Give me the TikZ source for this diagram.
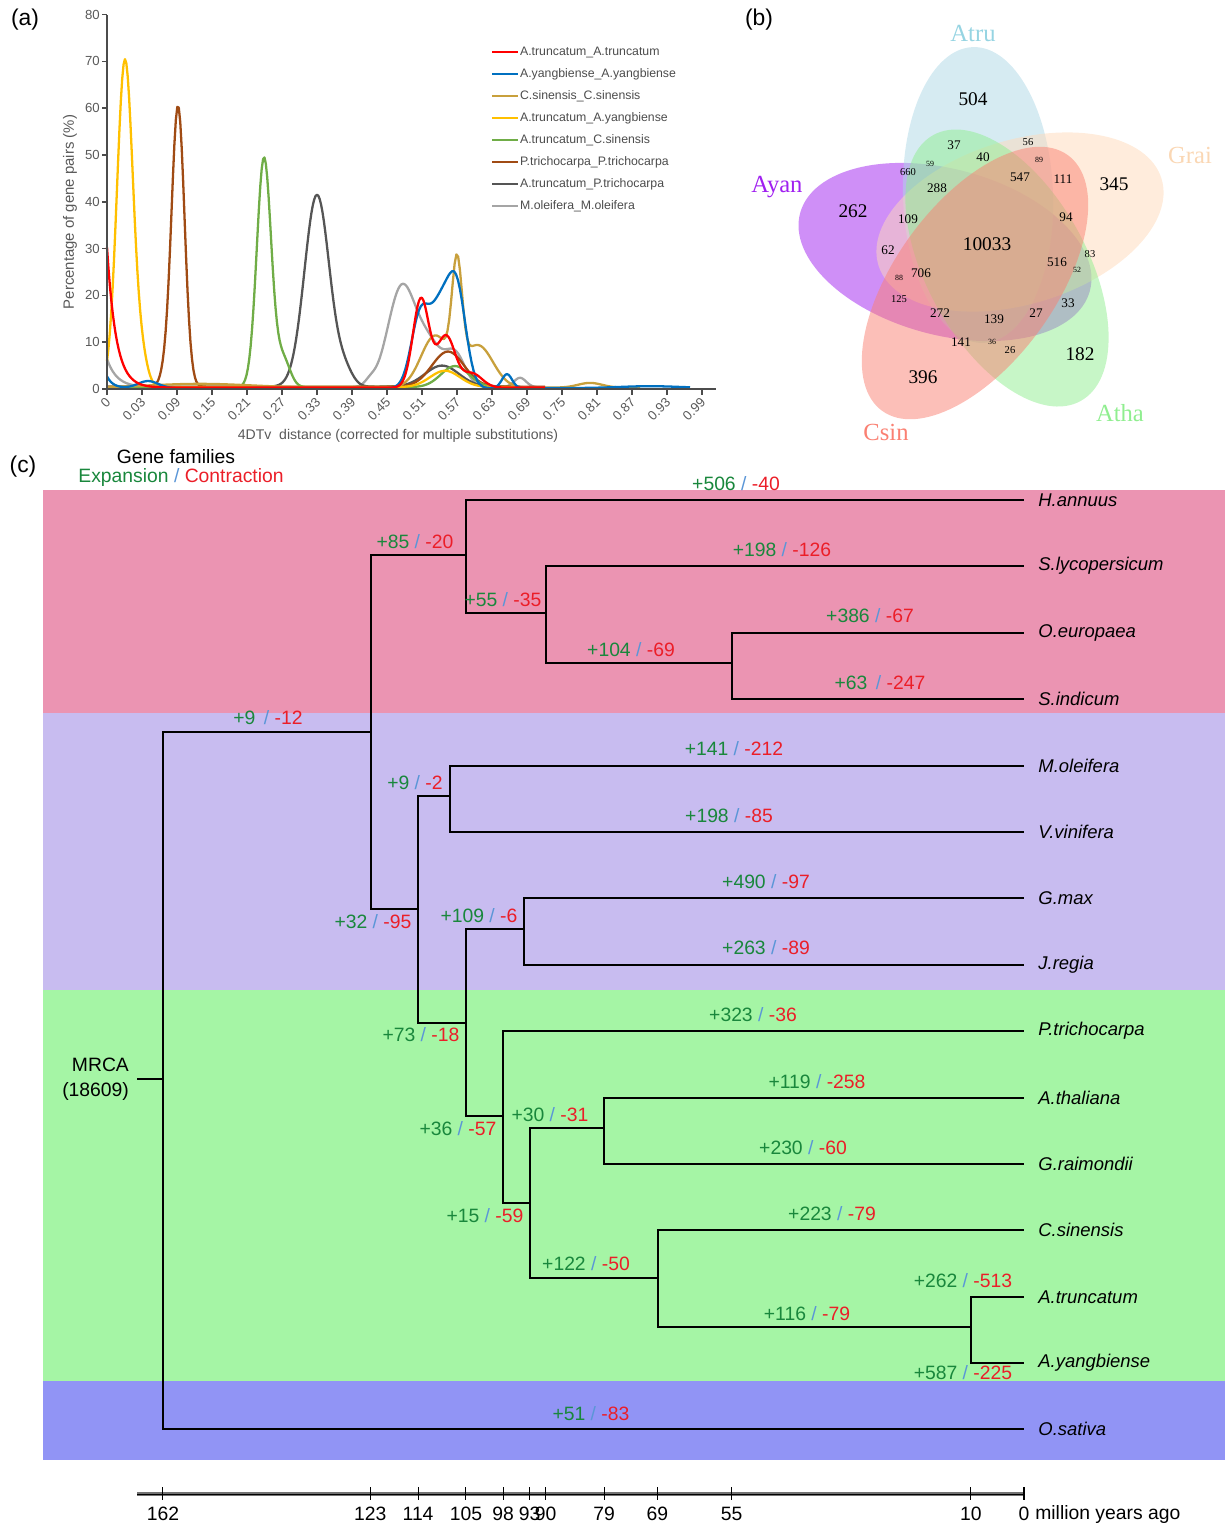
\documentclass[tikz,border=0pt]{standalone}
\usepackage{fontspec}
\setmainfont{Liberation Sans}
\newfontfamily\vennfont{Liberation Serif}
\usetikzlibrary{positioning,calc}
\definecolor{gaingreen}{RGB}{25,135,60}
\definecolor{lossred}{RGB}{235,30,40}
\definecolor{slashblue}{RGB}{90,150,215}
\definecolor{bandpink}{RGB}{235,148,178}
\definecolor{bandlilac}{RGB}{200,188,240}
\definecolor{bandgreen}{RGB}{165,245,165}
\definecolor{bandblue}{RGB}{145,148,245}
\definecolor{cRed}{RGB}{255,0,0}
\definecolor{cBlue}{RGB}{0,112,192}
\definecolor{cTan}{RGB}{200,160,60}
\definecolor{cYellow}{RGB}{255,192,0}
\definecolor{cGreen}{RGB}{112,173,71}
\definecolor{cBrown}{RGB}{160,75,20}
\definecolor{cDark}{RGB}{85,85,85}
\definecolor{cLight}{RGB}{165,165,165}
\definecolor{vAtru}{RGB}{173,216,230}
\definecolor{vAyan}{RGB}{160,32,240}
\definecolor{vGrai}{RGB}{255,218,185}
\definecolor{vAtha}{RGB}{144,238,144}
\definecolor{vCsin}{RGB}{250,128,114}
\definecolor{tAtru}{RGB}{150,212,226}
\definecolor{tGrai}{RGB}{250,215,180}
\newcommand{\gl}[2]{\textcolor{gaingreen}{#1} \textcolor{slashblue}{/} \textcolor{lossred}{#2}}

\begin{document}
\begin{tikzpicture}[x=0.02cm, y=-0.02cm, >=latex,
   declare function={gs(\xx,\mm,\ww)=exp(-min(0.5*((\xx-\mm)/\ww)^2,40)); dec(\xx,\ww)=exp(-min((\xx-107)/\ww,40));},
   curve/.style={line width=1.3pt, line join=round},
   axisline/.style={draw=black!70, line width=0.9pt},
   ticklab/.style={font=\fontsize{7.5}{8}\selectfont, text=black!65, inner sep=0.5pt},
   legtxt/.style={font=\fontsize{7}{8}\selectfont, text=black!70, anchor=west, inner sep=1pt},
   panel/.style={font=\fontsize{13}{14}\selectfont},
   venn/.style={fill opacity=0.5},
   vbig/.style={font=\vennfont\fontsize{11}{12}\selectfont, inner sep=0pt},
   vmid/.style={font=\vennfont\fontsize{7.5}{8}\selectfont, inner sep=0pt},
   vsml/.style={font=\vennfont\fontsize{6}{7}\selectfont, inner sep=0pt},
   vtin/.style={font=\vennfont\fontsize{4.5}{5}\selectfont, inner sep=0pt},
   vname/.style={font=\vennfont\fontsize{14}{15}\selectfont},
   branch/.style={draw=black, line width=0.7pt},
   gl/.style={font=\fontsize{11}{12}\selectfont, inner sep=1pt},
   sp/.style={anchor=west, inner xsep=8pt, font=\itshape\fontsize{10.5}{12}\selectfont}]

   \useasboundingbox (0,0) rectangle (1227,1526);

   % (a) 4DTv distribution
   \node[panel] (pa) at (25,20) {(a)};
   \foreach \v [count=\i from 0] in {0,10,...,80} {
     \draw[axisline] (102,389-46.8*\i) -- (107,389-46.8*\i);
     \node[ticklab, anchor=east] (yt\i) at (101,389-46.8*\i) {\v};
   }
   \foreach \lab [count=\i from 0] in {0,0.03,0.09,0.15,0.21,0.27,0.33,0.39,0.45,0.51,0.57,0.63,0.69,0.75,0.81,0.87,0.93,0.99} {
     \draw[axisline] (107+35*\i,389) -- (107+35*\i,395);
     \node[ticklab, rotate=45, anchor=east] (xt\i) at (109+35*\i,399) {\lab};
   }
   \node[ticklab, rotate=90, font=\fontsize{8.5}{9}\selectfont] (ylab) at (70,212) {Percentage of gene pairs (\%)};
   \node[ticklab, font=\fontsize{8}{9}\selectfont] (xlab) at (398,436) {4DTv\ \ distance (corrected for multiple substitutions)};

   \draw[curve, cLight] plot[domain=107:545, samples=300] (\x, {389-4.68*(6*dec(\x,10)+21.5*gs(\x,402,14)+8*gs(\x,430,12)+7*gs(\x,455,10)+2*gs(\x,520,6)+1*gs(\x,370,5)+0.4)});
   \draw[curve, cDark] plot[domain=107:520, samples=300] (\x, {389-4.68*(41*gs(\x,317,12.5)+3*gs(\x,345,8)+4.5*gs(\x,442,17)+0.5)});
   \draw[curve, cBrown] plot[domain=107:545, samples=300] (\x, {389-4.68*(60*gs(\x,178,6.5)+2*gs(\x,165,5)+7.5*gs(\x,448,16)+0.5)});
   \draw[curve, cGreen] plot[domain=107:520, samples=300] (\x, {389-4.68*(49*gs(\x,264,7.2)+6*gs(\x,283,7)+4.5*gs(\x,455,14)+0.4)});
   \draw[curve, cYellow] plot[domain=107:520, samples=300] (\x, {389-4.68*(70*gs(\x,125,8)+5*gs(\x,142,6)+3.5*gs(\x,445,15)+0.4)});
   \draw[curve, cTan] plot[domain=107:640, samples=300] (\x, {389-4.68*(11*gs(\x,435,14)+22*gs(\x,457,5)+9*gs(\x,478,15)+0.8*gs(\x,200,50)+1*gs(\x,590,12)+0.3)});
   \draw[curve, cBlue] plot[domain=107:690, samples=300] (\x, {389-4.68*(2.5*dec(\x,6)+1.5*gs(\x,148,10)+15*gs(\x,420,9)+16*gs(\x,440,10)+20*gs(\x,457,9)+3*gs(\x,507,5)+0.4*gs(\x,650,30)+0.2)});
   \draw[curve, cRed] plot[domain=107:545, samples=300] (\x, {389-4.68*(30*dec(\x,9)+19*gs(\x,421,8)+11*gs(\x,446,9)+3*gs(\x,472,10)+0.3)});

   \draw[axisline] (107,15) -- (107,389) -- (716,389);

   \foreach \col/\lab [count=\i from 0] in {cRed/A.truncatum\_A.truncatum, cBlue/A.yangbiense\_A.yangbiense, cTan/C.sinensis\_C.sinensis, cYellow/A.truncatum\_A.yangbiense, cGreen/A.truncatum\_C.sinensis, cBrown/P.trichocarpa\_P.trichocarpa, cDark/A.truncatum\_P.trichocarpa, cLight/M.oleifera\_M.oleifera} {
     \draw[curve, \col] (492,52+22*\i) -- (518,52+22*\i);
     \node[legtxt] (leg\i) at (518,52+22*\i) {\lab};
   }

   % (b) Venn diagram
   \node[panel] (pb) at (759,20) {(b)};
   \fill[venn, vAyan, rotate around={-15:(945,252)}] (945,252) ellipse [x radius=150, y radius=83];
   \fill[venn, vAtru, rotate around={92:(978,195)}] (978,195) ellipse [x radius=148, y radius=75];
   \fill[venn, vGrai, rotate around={17:(1020,222)}] (1020,222) ellipse [x radius=148, y radius=82];
   \fill[venn, vAtha, rotate around={-61:(1007,268)}] (1007,268) ellipse [x radius=152, y radius=80];
   \fill[venn, vCsin, rotate around={54:(975,283)}] (975,283) ellipse [x radius=158, y radius=80];

   \node[vname, text=tAtru] (nAtru) at (973,33) {Atru};
   \node[vname, text=tGrai] (nGrai) at (1190,155) {Grai};
   \node[vname, text=vAyan] (nAyan) at (777,187) {Ayan};
   \node[vname, text=vAtha] (nAtha) at (1120,413) {Atha};
   \node[vname, text=vCsin] (nCsin) at (886,432) {Csin};

   \foreach \v/\px/\py/\sz in {504/973/99/vbig, 262/853/211/vbig, 345/1114/184/vbig, 182/1080/354/vbig, 396/923/377/vbig, 10033/987/244/vbig,
       37/954/145/vmid, 40/983/157/vmid, 288/937/188/vmid, 547/1020/177/vmid, 111/1063/179/vmid, 94/1066/217/vmid, 109/908/219/vmid,
       62/888/250/vmid, 516/1057/262/vmid, 706/921/273/vmid, 272/940/313/vmid, 139/994/319/vmid, 27/1036/313/vmid, 33/1068/303/vmid, 141/961/342/vmid,
       56/1028/142/vsml, 660/908/172/vsml, 83/1090/254/vsml, 125/899/299/vsml, 26/1010/350/vsml,
       89/1039/160/vtin, 59/930/164/vtin, 52/1077/270/vtin, 88/899/278/vtin, 36/992/342/vtin} {
     \node[\sz] (v\v) at (\px,\py) {\v};
   }

   % (c) gene family tree
   \node[panel] (pc) at (23,467) {(c)};
   \node[gl] (gfam) at (176,457) {Gene families};
   \node[gl] (gexp) at (181,477) {\gl{Expansion}{Contraction}};

   \fill[bandpink] (43,490) rectangle (1225,713);
   \fill[bandlilac] (43,713) rectangle (1225,990);
   \fill[bandgreen] (43,990) rectangle (1225,1381);
   \fill[bandblue] (43,1381) rectangle (1225,1460);

   % inner nodes
   \coordinate (root) at (163,1079);
   \coordinate (mrcastub) at (137,1079);
   \coordinate (n123) at (371,732);
   \coordinate (nast) at (466,555);
   \coordinate (nlam) at (546,613);
   \coordinate (nole) at (732,663);
   \coordinate (n114) at (418,909);
   \coordinate (nmor) at (450,796);
   \coordinate (n105) at (466,1023);
   \coordinate (nfab) at (524,929);
   \coordinate (n98) at (503,1116);
   \coordinate (n93) at (530,1203);
   \coordinate (n79) at (604,1128);
   \coordinate (n69) at (658,1278);
   \coordinate (n10) at (971,1327);

   % tips
   \node[sp] (hann) at (1024,500) {H.annuus};
   \node[sp] (slyc) at (1024,566) {S.lycopersicum};
   \node[sp] (oeur) at (1024,633) {O.europaea};
   \node[sp] (sind) at (1024,699) {S.indicum};
   \node[sp] (mole) at (1024,766) {M.oleifera};
   \node[sp] (vvin) at (1024,832) {V.vinifera};
   \node[sp] (gmax) at (1024,898) {G.max};
   \node[sp] (jreg) at (1024,965) {J.regia};
   \node[sp] (ptri) at (1024,1031) {P.trichocarpa};
   \node[sp] (atha) at (1024,1098) {A.thaliana};
   \node[sp] (grai) at (1024,1164) {G.raimondii};
   \node[sp] (csin) at (1024,1230) {C.sinensis};
   \node[sp] (atru) at (1024,1297) {A.truncatum};
   \node[sp] (ayan) at (1024,1363) {A.yangbiense};
   \node[sp] (osat) at (1024,1429) {O.sativa};

   \draw[branch] (mrcastub) -- (root);
   \draw[branch] (root) |- (n123);
   \draw[branch] (root) |- (osat.west);
   \draw[branch] (n123) |- (nast);
   \draw[branch] (n123) |- (n114);
   \draw[branch] (nast) |- (hann.west);
   \draw[branch] (nast) |- (nlam);
   \draw[branch] (nlam) |- (slyc.west);
   \draw[branch] (nlam) |- (nole);
   \draw[branch] (nole) |- (oeur.west);
   \draw[branch] (nole) |- (sind.west);
   \draw[branch] (n114) |- (nmor);
   \draw[branch] (n114) |- (n105);
   \draw[branch] (nmor) |- (mole.west);
   \draw[branch] (nmor) |- (vvin.west);
   \draw[branch] (n105) |- (nfab);
   \draw[branch] (n105) |- (n98);
   \draw[branch] (nfab) |- (gmax.west);
   \draw[branch] (nfab) |- (jreg.west);
   \draw[branch] (n98) |- (ptri.west);
   \draw[branch] (n98) |- (n93);
   \draw[branch] (n93) |- (n79);
   \draw[branch] (n93) |- (n69);
   \draw[branch] (n79) |- (atha.west);
   \draw[branch] (n79) |- (grai.west);
   \draw[branch] (n69) |- (csin.west);
   \draw[branch] (n69) |- (n10);
   \draw[branch] (n10) |- (atru.west);
   \draw[branch] (n10) |- (ayan.west);

   \node[gl, align=right, anchor=east, font=\fontsize{11}{14.5}\selectfont] (mrca) at (131,1079) {MRCA\\(18609)};

   % expansion / contraction counts
   \node[gl] (lhann) at (736,484) {\gl{+506}{-40}};
   \node[gl] (last) at (415,542) {\gl{+85}{-20}};
   \node[gl] (lslyc) at (782,550) {\gl{+198}{-126}};
   \node[gl] (llam) at (503,600) {\gl{+55}{-35}};
   \node[gl] (loeur) at (870,616) {\gl{+386}{-67}};
   \node[gl] (lole) at (631,650) {\gl{+104}{-69}};
   \node[gl] (lsind) at (880,683) {\gl{+63\,}{-247}};
   \node[gl] (l123) at (268,718) {\gl{+9\,}{-12}};
   \node[gl] (lmole) at (734,749) {\gl{+141}{-212}};
   \node[gl] (lmor) at (415,783) {\gl{+9}{-2}};
   \node[gl] (lvvin) at (729,816) {\gl{+198}{-85}};
   \node[gl] (lgmax) at (766,882) {\gl{+490}{-97}};
   \node[gl] (lfab) at (479,916) {\gl{+109}{-6}};
   \node[gl] (l114) at (373,922) {\gl{+32}{-95}};
   \node[gl] (ljreg) at (766,948) {\gl{+263}{-89}};
   \node[gl] (lptri) at (753,1015) {\gl{+323}{-36}};
   \node[gl] (l105) at (421,1035) {\gl{+73}{-18}};
   \node[gl] (latha) at (817,1082) {\gl{+119}{-258}};
   \node[gl] (l79) at (550,1115) {\gl{+30}{-31}};
   \node[gl] (l98) at (458,1129) {\gl{+36}{-57}};
   \node[gl] (lgrai) at (803,1148) {\gl{+230}{-60}};
   \node[gl] (lcsin) at (832,1214) {\gl{+223}{-79}};
   \node[gl] (l93) at (485,1216) {\gl{+15}{-59}};
   \node[gl] (l69) at (586,1264) {\gl{+122}{-50}};
   \node[gl] (latru) at (963,1281) {\gl{+262}{-513}};
   \node[gl] (l10) at (807,1314) {\gl{+116}{-79}};
   \node[gl] (layan) at (963,1373) {\gl{+587}{-225}};
   \node[gl] (losat) at (591,1414) {\gl{+51}{-83}};

   % time scale
   \coordinate (tstart) at (137,1494);
   \coordinate (tend) at (1024,1494);
   \draw[black!55, line width=1.8pt] (tstart) -- (tend);
   \draw[black, line width=0.4pt] (tstart) -- (tend);
   \foreach \yr in {162,123,114,105,98,93,90,79,69,55,10,0} {
     \draw[black, line width=0.6pt] (1024-5.315*\yr,1487) -- (1024-5.315*\yr,1500);
     \node[gl, inner xsep=0pt] (ty\yr) at (1024-5.315*\yr,1514) {\yr};
   }
   \node[gl, anchor=west] (tmya) at ([xshift=2pt]ty0.east) {million years ago};
\end{tikzpicture}
\end{document}
